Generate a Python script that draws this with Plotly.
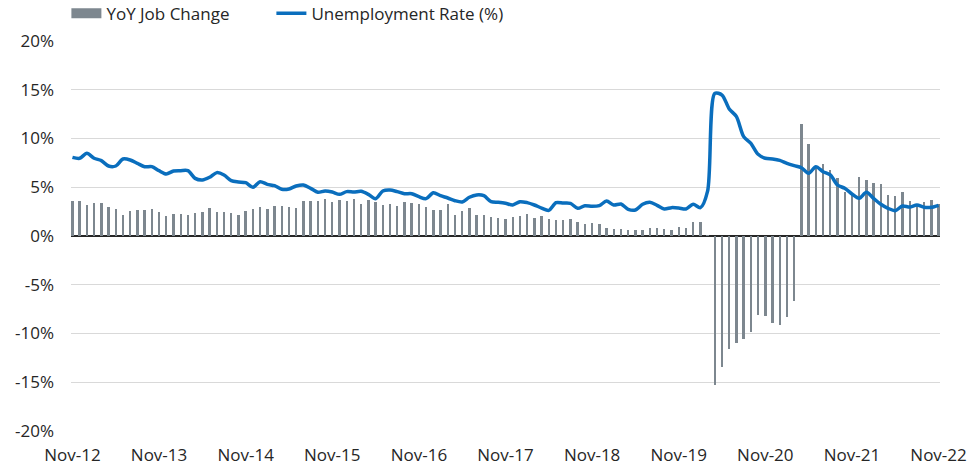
import pandas as pd
import plotly.graph_objects as go

months = list(pd.date_range("2012-11-01", "2022-11-01", freq="MS").strftime("%b-%y"))

job_change = [
    3.55, 3.55, 3.18, 3.42, 3.35, 2.97, 2.77, 2.19, 2.56, 2.63, 2.67, 2.74,
    2.50, 2.09, 2.26, 2.22, 2.15, 2.36, 2.46, 2.91, 2.46, 2.46, 2.32, 2.15,
    2.56, 2.74, 3.01, 2.80, 3.11, 3.04, 2.94, 2.87, 3.62, 3.59, 3.55, 3.83,
    3.45, 3.66, 3.55, 3.80, 3.28, 3.66, 3.45, 3.21, 3.25, 3.11, 3.45, 3.38,
    3.25, 3.01, 2.70, 2.63, 3.25, 2.12, 2.53, 2.87, 2.15, 2.12, 1.98, 1.85,
    1.71, 1.98, 2.05, 2.26, 1.85, 2.02, 1.78, 1.68, 1.61, 1.78, 1.47, 1.20,
    1.30, 1.20, 0.85, 0.75, 0.68, 0.61, 0.65, 0.65, 0.85, 0.87, 0.72, 0.58,
    0.96, 0.82, 1.40, 1.44, 0.10, -15.3, -13.4, -11.6, -11.0, -10.6, -9.8, -8.1,
    -8.2, -8.9, -9.1, -8.3, -6.7, 11.47, 9.44, 7.18, 7.38, 6.77, 5.95, 4.55,
    4.21, 6.02, 5.74, 5.47, 5.30, 4.21, 4.10, 4.51, 3.59, 3.28, 3.49, 3.69,
    3.28,
]

unemployment = [
    8.07, 7.97, 8.48, 7.97, 7.73, 7.18, 7.18, 7.90, 7.80, 7.45, 7.11, 7.11,
    6.70, 6.36, 6.67, 6.70, 6.70, 5.91, 5.74, 6.02, 6.50, 6.26, 5.67, 5.54,
    5.47, 4.99, 5.57, 5.30, 5.16, 4.79, 4.82, 5.13, 5.23, 4.89, 4.48, 4.62,
    4.51, 4.27, 4.55, 4.51, 4.58, 4.27, 3.83, 4.62, 4.72, 4.55, 4.34, 4.34,
    4.03, 3.83, 4.44, 4.13, 3.90, 3.62, 3.49, 3.97, 4.21, 4.13, 3.52, 3.45,
    3.35, 3.18, 3.52, 3.42, 3.18, 2.87, 2.63, 3.42, 3.38, 3.35, 2.84, 3.11,
    3.04, 3.11, 3.59, 3.18, 3.28, 2.74, 2.67, 3.25, 3.45, 3.15, 2.77, 2.91,
    2.87, 2.77, 3.25, 2.91, 4.60, 14.63, 14.46, 13.03, 12.24, 10.19, 9.50, 8.38,
    7.97, 7.90, 7.76, 7.45, 7.21, 7.00, 6.43, 7.11, 6.60, 6.26, 5.23, 4.89,
    4.31, 3.86, 4.48, 3.86, 3.25, 2.84, 2.60, 3.08, 2.97, 3.18, 2.94, 2.94,
    3.15,
]

x_tick_labels = ["Nov-12", "Nov-13", "Nov-14", "Nov-15", "Nov-16", "Nov-17",
                 "Nov-18", "Nov-19", "Nov-20", "Nov-21", "Nov-22"]
y_tick_values = [-20, -15, -10, -5, 0, 5, 10, 15, 20]
y_tick_labels = ["-20%", "-15%", "-10%", "-5%", "0%", "5%", "10%", "15%", "20%"]

BAR_COLOR = "#7d878f"
LINE_COLOR = "#0a6ebd"
TEXT_COLOR = "#262626"
FONT = "Open Sans"
FONT_SIZE = 17

fig = go.Figure()
fig.add_trace(go.Bar(
    x=months, y=job_change, width=0.33, marker=dict(color=BAR_COLOR, line=dict(width=0)),
    name="YoY Job Change", showlegend=False,
))
# legend-only entry to mimic the wide rectangle legend key
fig.add_trace(go.Scatter(
    x=[None], y=[None], mode="lines", line=dict(color=BAR_COLOR, width=11),
    name="YoY Job Change",
))
fig.add_trace(go.Scatter(
    x=months, y=unemployment, mode="lines",
    line=dict(color=LINE_COLOR, width=3.5, shape="spline", smoothing=0.8),
    name="Unemployment Rate (%)",
))
# invisible spacer entry so the last legend label is not clipped
fig.add_trace(go.Scatter(
    x=[None], y=[None], mode="lines", line=dict(color="rgba(0,0,0,0)", width=0),
    name=" ", hoverinfo="skip",
))

fig.update_layout(
    width=980, height=466,
    margin=dict(l=71, r=40, t=41, b=35, autoexpand=False),
    paper_bgcolor="white", plot_bgcolor="white",
    font=dict(family=FONT, size=FONT_SIZE, color=TEXT_COLOR),
    bargap=0,
    legend=dict(
        orientation="h", x=-0.0053, xanchor="left", y=1.07, yanchor="middle",
        font=dict(family=FONT, size=FONT_SIZE, color=TEXT_COLOR),
        entrywidth=160, entrywidthmode="pixels",
        bgcolor="rgba(0,0,0,0)", itemclick=False, itemdoubleclick=False,
    ),
    showlegend=True,
)
fig.update_xaxes(
    type="category", range=[-0.2, 120.2],
    tickvals=x_tick_labels, ticktext=x_tick_labels, tickangle=0,
    showgrid=False, zeroline=False, showline=False,
    ticks="", ticklabelstandoff=12,
    tickfont=dict(family=FONT, size=FONT_SIZE, color=TEXT_COLOR),
)
fig.update_yaxes(
    range=[-20, 20], tickvals=y_tick_values, ticktext=y_tick_labels,
    showgrid=True, gridcolor="#d9d9d9", gridwidth=1,
    zeroline=True, zerolinecolor="#262626", zerolinewidth=1.5,
    showline=False, ticks="", ticklabelstandoff=16,
    tickfont=dict(family=FONT, size=FONT_SIZE, color=TEXT_COLOR),
)

fig.write_html(
    "out.html",
    config={"displayModeBar": False},
    post_script="document.body.style.margin='0';",
)
